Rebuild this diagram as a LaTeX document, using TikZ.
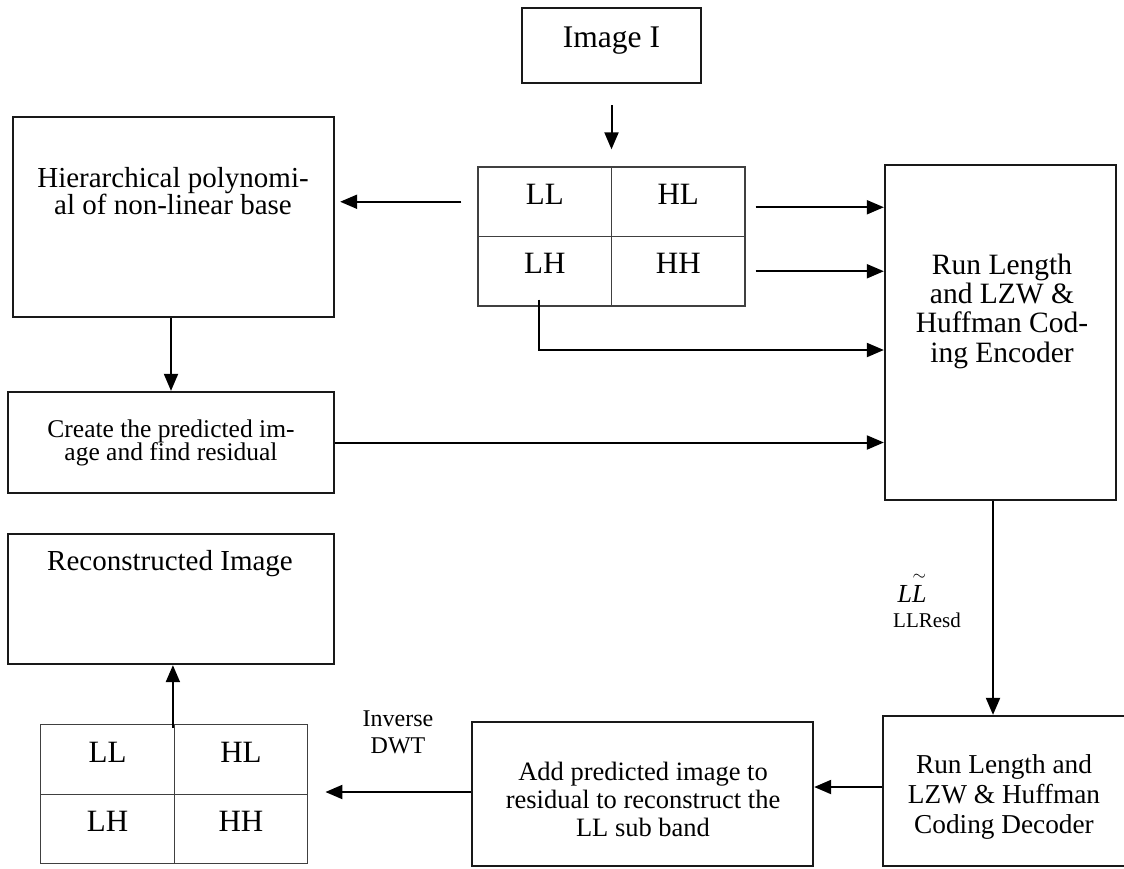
\documentclass[tikz,border=0pt]{standalone}
\usepackage{fontspec}
\usepackage{amsmath}
\setmainfont{Liberation Serif}
\usetikzlibrary{arrows.meta}
\newcommand\setfs[2]{\fontsize{#1}{#2}\selectfont\lineskiplimit=-100pt\relax}
\tikzset{
  box/.style={draw=black!90, line width=2.3pt, inner sep=0pt},
  cell/.style={draw=black!75, line width=1.3pt, minimum width=133.5pt, minimum height=69.5pt,
    inner sep=0pt, text height=21pt, text depth=16pt, font=\setfs{31}{31}},
  txt/.style={anchor=base, align=center, inner sep=0pt},
  flow/.style={line width=2pt, -{Triangle[length=17pt,width=14pt]}},
}

\begin{document}
\begin{tikzpicture}[x=1pt,y=-1pt]
  \useasboundingbox (0,0) rectangle (1124,868);
  % input image and the two sub band grids
  \node[box, minimum width=179pt, minimum height=75pt] (img) at (611.5,45.5) {};
  \node[txt, font=\setfs{31.5}{31.5}] (img-t) at (611.5,47) {Image I};
  \foreach \t/\i/\j in {LL/0/0, HL/1/0, LH/0/1, HH/1/1}{
    \node[cell] (a\t) at (544.75+133.5*\i, 201.75+69.5*\j) {\t};
    \node[cell] (b\t) at (107.5+133.5*\i, 759.5+69.5*\j) {\t};
  }
  % blocks (text nodes sit on the baseline of their last line)
  \node[box, minimum width=321pt, minimum height=200pt] (hier) at (173.5,217) {};
  \node[txt, font=\setfs{29}{26.8}] (hier-t) at (173,214.5)
    {Hierarchical polynomi-\\al of non-linear base};
  \node[box, minimum width=326pt, minimum height=101pt] (create) at (171,442.5) {};
  \node[txt, font=\setfs{25.5}{23.5}] (create-t) at (171,460.5)
    {Create the predicted im-\\age and find residual};
  \node[box, minimum width=326pt, minimum height=130pt] (recon) at (171,599) {};
  \node[txt, font=\setfs{29}{29}] (recon-t) at (170,570) {Reconstructed Image};
  \node[box, minimum width=231pt, minimum height=335pt] (enc) at (1000.5,332.5) {};
  \node[txt, font=\setfs{29.5}{29.3}] (enc-t) at (1002,362)
    {Run Length\\and LZW \&\\Huffman Cod-\\ing Encoder};
  \node[box, minimum width=247pt, minimum height=150pt] (dec) at (1006.5,791) {};
  \node[txt, font=\setfs{27.3}{30}] (dec-t) at (1004,833)
    {Run Length and\\LZW \& Huffman\\Coding Decoder};
  \node[box, minimum width=341pt, minimum height=144pt] (add) at (642.5,794) {};
  \node[txt, font=\setfs{26.5}{28}] (add-t) at (643,836)
    {Add predicted image to\\residual to reconstruct the\\LL sub band};
  % connector labels
  \node[txt, font=\setfs{24}{27}] (idwt) at (398,753) {Inverse\\DWT};
  \node[txt, font=\setfs{26}{26}] (resd) at (912,602) {$\mathit{L}\overset{\sim}{\mathit{L}}$};
  \node[txt, font=\setfs{21}{21}] (resd-s) at (927,627) {LLResd};
  % connectors
  \draw[flow, shorten <=21pt, shorten >=17pt] (img.south) -- (img.south |- aLL.north);
  \draw[flow, shorten <=16pt, shorten >=5pt] (aLL.west) -- (aLL.west -| hier.east);
  \draw[flow, shorten <=10pt] ([yshift=-5.5pt]aHL.east) -- ([yshift=-5.5pt]aHL.east -| enc.west);
  \draw[flow, shorten <=10pt] (aHH.east) -- (aHH.east -| enc.west);
  \coordinate (lhbend) at (539.3,350);
  \draw[flow] ([yshift=7pt]aLH.south -| lhbend) -- (lhbend) -- (lhbend -| enc.west);
  \draw[flow] (create.north |- hier.south) -- (create.north);
  \draw[flow] (create.east) -- (create.east -| enc.west);
  \draw[flow] ([xshift=-7.5pt]enc.south) -- ([xshift=-7.5pt]enc.south |- dec.north);
  \draw[flow] ([yshift=4pt]dec.west) -- ([yshift=4pt]dec.west -| add.east);
  \draw[flow, shorten >=17pt] ([yshift=2pt]add.west) -- ([yshift=2pt]add.west -| bHL.east);
  \draw[flow] ([xshift=-2pt,yshift=-4pt]bLL.north east) -- ([xshift=-2pt]bLL.north east |- recon.south);
\end{tikzpicture}
\end{document}
